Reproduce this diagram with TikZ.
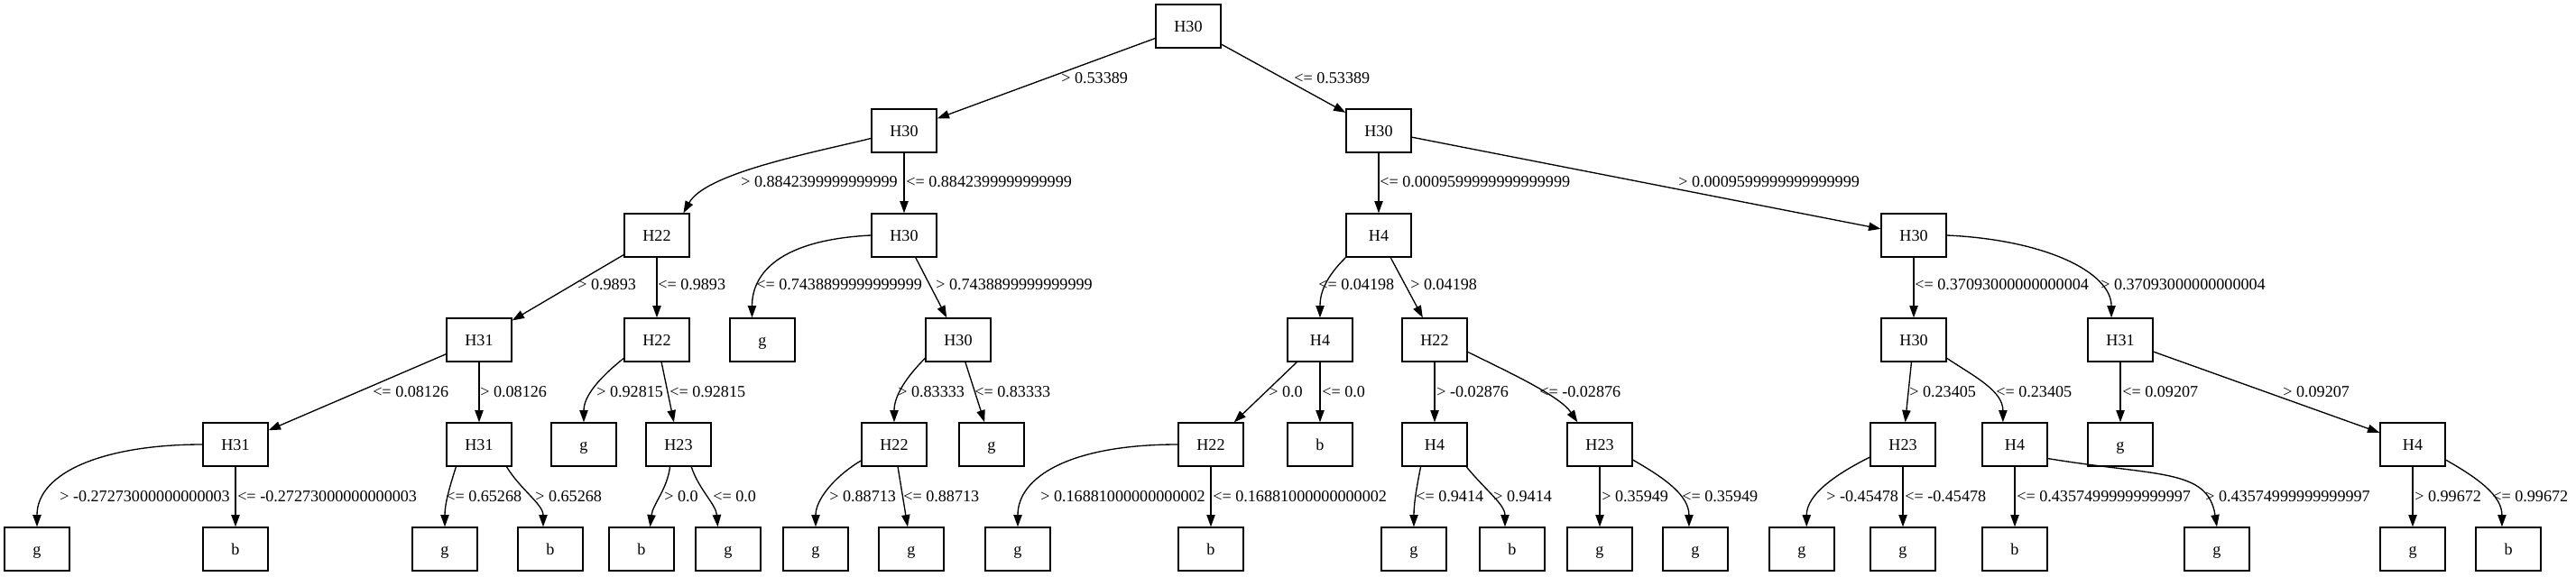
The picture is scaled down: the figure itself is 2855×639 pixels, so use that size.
\documentclass[tikz,border=0pt]{standalone}
\usepackage{fontspec}
\setmainfont{Liberation Serif}
\usetikzlibrary{arrows.meta}
\begin{document}
\begin{tikzpicture}[x=0.75pt,y=-0.75pt,
  box/.style={draw, line width=1pt, rectangle, minimum width=54pt, minimum height=36pt, inner sep=0pt, text height=10pt, text depth=1pt, font=\fontsize{13.6}{16}\selectfont},
  lbl/.style={anchor=west, inner sep=0pt, font=\fontsize{13.6}{16}\selectfont},
  arr/.style={draw, line width=1pt, -{Triangle[length=10pt,width=7pt]}}]
\path[use as bounding box] (0,0) rectangle (2855,639);
% nodes
\node[box] (r) at (1317,29) {H30};
\node[box] (A) at (1002,145) {H30};
\node[box] (B) at (1528,145) {H30};
\node[box] (A1) at (728,261) {H22};
\node[box] (A2) at (1002,261) {H30};
\node[box] (B1) at (1528,261) {H4};
\node[box] (B2) at (2121,261) {H30};
\node[box] (A11) at (531,377) {H31};
\node[box] (A12) at (728,377) {H22};
\node[box] (A21) at (845,377) {g};
\node[box] (A22) at (1062,377) {H30};
\node[box] (B11) at (1463,377) {H4};
\node[box] (B12) at (1590,377) {H22};
\node[box] (B21) at (2121,377) {H30};
\node[box] (B22) at (2350,377) {H31};
\node[box] (A111) at (261,493) {H31};
\node[box] (A112) at (531,493) {H31};
\node[box] (A121) at (647,493) {g};
\node[box] (A122) at (752,493) {H23};
\node[box] (A221) at (991,493) {H22};
\node[box] (A222) at (1099,493) {g};
\node[box] (B111) at (1342,493) {H22};
\node[box] (B112) at (1463,493) {b};
\node[box] (B121) at (1590,493) {H4};
\node[box] (B122) at (1773,493) {H23};
\node[box] (B211) at (2109,493) {H23};
\node[box] (B212) at (2233,493) {H4};
\node[box] (B221) at (2350,493) {g};
\node[box] (B222) at (2674,493) {H4};
\node[box] (A1111) at (41,609) {g};
\node[box] (A1112) at (261,609) {b};
\node[box] (A1121) at (493,609) {g};
\node[box] (A1122) at (610,609) {b};
\node[box] (A1221) at (711,609) {b};
\node[box] (A1222) at (807,609) {g};
\node[box] (A2211) at (904,609) {g};
\node[box] (A2212) at (1010,609) {g};
\node[box] (B1111) at (1128,609) {g};
\node[box] (B1112) at (1342,609) {b};
\node[box] (B1211) at (1567,609) {g};
\node[box] (B1212) at (1676,609) {b};
\node[box] (B1221) at (1773,609) {g};
\node[box] (B1222) at (1879,609) {g};
\node[box] (B2111) at (1997,609) {g};
\node[box] (B2112) at (2109,609) {g};
\node[box] (B2121) at (2233,609) {b};
\node[box] (B2122) at (2457,609) {g};
\node[box] (B2221) at (2674,609) {g};
\node[box] (B2222) at (2780,609) {b};
% edges
\draw[arr] (r) -- (A);
\draw[arr] (r) -- (B);
\draw[arr] (A.193) .. controls +(-60,15) and +(25,-45) .. (A1.40);
\draw[arr] (A) -- (A2);
\draw[arr] (B) -- (B1);
\draw[arr] (B) -- (B2);
\draw[arr] (A1) -- (A11);
\draw[arr] (A1) -- (A12);
\draw[arr] (A2.west) .. controls +(-100,5) and +(0,-50) .. (A21.115);
\draw[arr] (A2) -- (A22);
\draw[arr] (B1.south west) .. controls +(-20,20) and +(0,-30) .. (B11.north);
\draw[arr] (B1) -- (B12);
\draw[arr] (B2) -- (B21);
\draw[arr] (B2.east) .. controls +(110,5) and +(0,-50) .. (B22.112);
\draw[arr] (A11) -- (A111);
\draw[arr] (A11) -- (A112);
\draw[arr] (A12.209) .. controls +(-25,20) and +(0,-30) .. (A121.north);
\draw[arr] (A12) -- (A122);
\draw[arr] (A22.209) .. controls +(-20,20) and +(0,-30) .. (A221.north);
\draw[arr] (A22) -- (A222);
\draw[arr] (B11) -- (B111);
\draw[arr] (B11) -- (B112);
\draw[arr] (B12) -- (B121);
\draw[arr] (B12.-20) .. controls +(40,20) and +(-20,-30) .. (B122.135);
\draw[arr] (B21) -- (B211);
\draw[arr] (B21.-29) .. controls +(30,20) and +(0,-35) .. (B212.118);
\draw[arr] (B22) -- (B221);
\draw[arr] (B22) -- (B222);
\draw[arr] (A111.west) .. controls +(-110,0) and +(0,-60) .. (A1111.north);
\draw[arr] (A111) -- (A1112);
\draw[arr] (A112.224) .. controls +(-8,25) and +(0,-25) .. (A1121.north);
\draw[arr] (A112.-39) .. controls +(15,25) and +(0,-25) .. (A1122.108);
\draw[arr] (A122.249) .. controls +(-3,25) and +(3,-25) .. (A1221.69);
\draw[arr] (A122.-60) .. controls +(8,25) and +(-2,-25) .. (A1222.115);
\draw[arr] (A221.206) .. controls +(-30,18) and +(0,-30) .. (A2211.north);
\draw[arr] (A221) -- (A2212);
\draw[arr] (B111.west) .. controls +(-120,0) and +(0,-55) .. (B1111.north);
\draw[arr] (B111) -- (B1112);
\draw[arr] (B121.238) .. controls +(-5,25) and +(0,-25) .. (B1211.north);
\draw[arr] (B121.-35) .. controls +(20,25) and +(0,-25) .. (B1212.108);
\draw[arr] (B122) -- (B1221);
\draw[arr] (B122.-25) .. controls +(35,20) and +(0,-35) .. (B1222.106);
\draw[arr] (B211.201) .. controls +(-40,20) and +(0,-35) .. (B2111.78);
\draw[arr] (B211) -- (B2112);
\draw[arr] (B212) -- (B2121);
\draw[arr] (B212.-23) .. controls +(121,20) and +(-10,-65) .. (B2122.north);
\draw[arr] (B222) -- (B2221);
\draw[arr] (B222.-25) .. controls +(35,20) and +(0,-35) .. (B2222.106);
% labels
\node[lbl] (l01) at (1176,87) {> 0.53389};
\node[lbl] (l02) at (1434,87) {<= 0.53389};
\node[lbl] (l11) at (821,202) {> 0.8842399999999999};
\node[lbl] (l12) at (1004,202) {<= 0.8842399999999999};
\node[lbl] (l13) at (1529,202) {<= 0.0009599999999999999};
\node[lbl] (l14) at (1860,202) {> 0.0009599999999999999};
\node[lbl] (l21) at (640,316) {> 0.9893};
\node[lbl] (l22) at (729,316) {<= 0.9893};
\node[lbl] (l23) at (838,316) {<= 0.7438899999999999};
\node[lbl] (l24) at (1037,316) {> 0.7438899999999999};
\node[lbl] (l25) at (1461,316) {<= 0.04198};
\node[lbl] (l26) at (1563,316) {> 0.04198};
\node[lbl] (l27) at (2122,316) {<= 0.37093000000000004};
\node[lbl] (l28) at (2328,316) {> 0.37093000000000004};
\node[lbl] (l31) at (413,435) {<= 0.08126};
\node[lbl] (l32) at (532,435) {> 0.08126};
\node[lbl] (l33) at (661,435) {> 0.92815};
\node[lbl] (l34) at (742,435) {<= 0.92815};
\node[lbl] (l35) at (995,435) {> 0.83333};
\node[lbl] (l36) at (1080,435) {<= 0.83333};
\node[lbl] (l37) at (1406,435) {> 0.0};
\node[lbl] (l38) at (1465,435) {<= 0.0};
\node[lbl] (l39) at (1592,435) {> -0.02876};
\node[lbl] (l310) at (1706,435) {<= -0.02876};
\node[lbl] (l311) at (2116,435) {> 0.23405};
\node[lbl] (l312) at (2212,435) {<= 0.23405};
\node[lbl] (l313) at (2352,435) {<= 0.09207};
\node[lbl] (l314) at (2530,435) {> 0.09207};
\node[lbl] (l41) at (66,551) {> -0.27273000000000003};
\node[lbl] (l42) at (263,551) {<= -0.27273000000000003};
\node[lbl] (l43) at (494,551) {<= 0.65268};
\node[lbl] (l44) at (593,551) {> 0.65268};
\node[lbl] (l45) at (736,551) {> 0.0};
\node[lbl] (l46) at (790,551) {<= 0.0};
\node[lbl] (l47) at (919,551) {> 0.88713};
\node[lbl] (l48) at (1001,551) {<= 0.88713};
\node[lbl] (l49) at (1153,551) {> 0.16881000000000002};
\node[lbl] (l410) at (1344,551) {<= 0.16881000000000002};
\node[lbl] (l411) at (1569,551) {<= 0.9414};
\node[lbl] (l412) at (1655,551) {> 0.9414};
\node[lbl] (l413) at (1775,551) {> 0.35949};
\node[lbl] (l414) at (1864,551) {<= 0.35949};
\node[lbl] (l415) at (2024,551) {> -0.45478};
\node[lbl] (l416) at (2111,551) {<= -0.45478};
\node[lbl] (l417) at (2235,551) {<= 0.43574999999999997};
\node[lbl] (l418) at (2444,551) {> 0.43574999999999997};
\node[lbl] (l419) at (2676,551) {> 0.99672};
\node[lbl] (l420) at (2762,551) {<= 0.99672};
\end{tikzpicture}
\end{document}
